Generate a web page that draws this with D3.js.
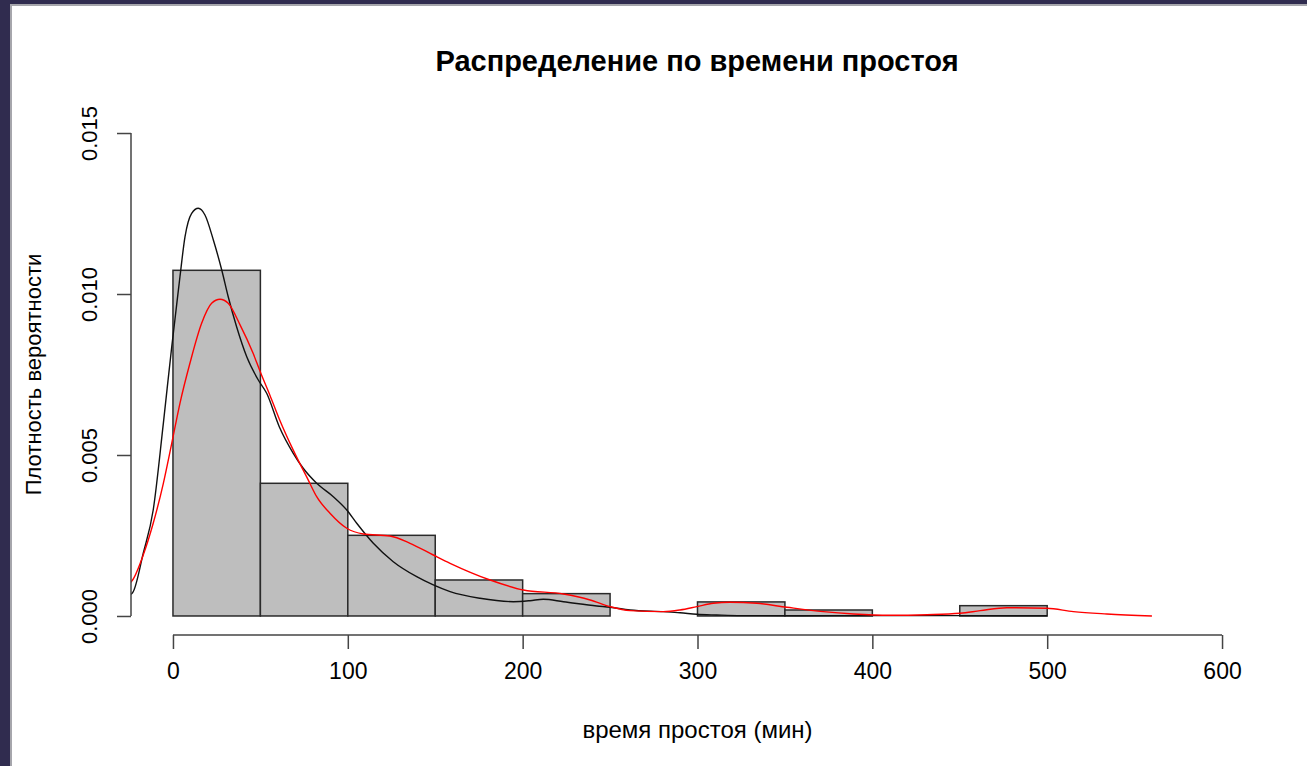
<!DOCTYPE html>
<html>
<head>
<meta charset="utf-8">
<script src="https://cdn.jsdelivr.net/npm/d3@7"></script>
<style>
  html, body { margin: 0; padding: 0; background: #ffffff; }
  svg { display: block; }
  text { font-family: "Liberation Sans", Arial, sans-serif; fill: #000; }
</style>
</head>
<body>
<svg id="chart" width="1307" height="766"></svg>
<script>
// Histogram bins (minutes) and densities
const binStarts = [0, 50, 100, 150, 200, 250, 300, 350, 400, 450];
const binWidth = 50;
const binDensity = [0.010736, 0.004121, 0.002505, 0.001118, 0.000694, 0, 0.000437, 0.000186, 0, 0.00032];

// Kernel density estimate (black curve)
const kdeX = [-30, -23.1, -17.0, -11.3, -5.5, -0.7, 1.1, 4.0, 6.9, 10.7, 14.5, 18.3, 23.1, 27.9, 31.6, 36.4,
  42.2, 48.8, 53.6, 60.8, 68.8, 74.5, 82.2, 91.7, 99.4, 105.1, 114.6, 126.0, 139.4, 148.9, 158.5, 175.6,
  194.7, 204.2, 211.8, 223.3, 242.4, 250.0, 261.4, 280.5, 290.0, 299.6, 311.0, 325, 360, 400, 450, 500];
const kdeY = [0.00052, 0.000724, 0.001947, 0.003292, 0.005984, 0.008363, 0.009193, 0.010537, 0.01178, 0.012506,
  0.012662, 0.012453, 0.011677, 0.010745, 0.009916, 0.008985, 0.008053, 0.007329, 0.006916, 0.005879,
  0.005053, 0.004587, 0.004121, 0.003705, 0.003292, 0.002879, 0.002258, 0.001686, 0.00122, 0.000963,
  0.000755, 0.00055, 0.000444, 0.000475, 0.000519, 0.000444, 0.000311, 0.00027, 0.000186, 0.000134,
  0.000102, 0.000053, 0.000031, 0.000012, 0.000008, 0.000012, 0.00001, 0.000005];

// Fitted density (red curve)
const fitX = [-30, -23.1, -17.0, -11.3, -5.5, -0.7, 4.0, 9.7, 16.4, 22.1, 26.9, 31.6, 38.3, 45.9, 49.8, 55.5,
  60.8, 68.8, 77.4, 82.2, 89.8, 99.4, 108.9, 124.1, 135.6, 148.9, 158.5, 181.4, 200.4, 223.3, 238.6, 250.0,
  261.4, 280.5, 290.0, 299.6, 309.1, 318.6, 333.9, 351.1, 372.0, 389.2, 410.2, 431.2, 450.2, 461.7, 476.9,
  499.8, 515.0, 534.1, 559.9];
const fitY = [0.00085, 0.001118, 0.001894, 0.002879, 0.004121, 0.005363, 0.006606, 0.007848, 0.00909, 0.009711,
  0.009835, 0.009711, 0.00905, 0.00815, 0.0076, 0.00685, 0.00612, 0.00515, 0.00422, 0.003705,
  0.00319, 0.002724, 0.002547, 0.002484, 0.002258, 0.001894, 0.001637, 0.001118, 0.000807, 0.000683,
  0.000497, 0.000289, 0.000165, 0.000134, 0.000186, 0.000289, 0.000394, 0.000425, 0.000394, 0.00027,
  0.000134, 0.000062, 0.000022, 0.00004, 0.000084, 0.000165, 0.000258, 0.000239, 0.000134, 0.000062, 0];

const xTicks = [0, 100, 200, 300, 400, 500, 600];
const yTicks = [0, 0.005, 0.010, 0.015];

const titleText = "Распределение по времени простоя";
const xLabel = "время простоя (мин)";
const yLabel = "Плотность вероятности";

const W = 1307, H = 766;
const svg = d3.select("#chart");

// Window frame: dark edge on top and left, thin grey rule, white canvas
svg.append("rect").attr("x", 0).attr("y", 0).attr("width", W).attr("height", H).attr("fill", "#302c4f");
svg.append("rect").attr("x", 10).attr("y", 4).attr("width", W - 10).attr("height", H - 4).attr("fill", "#a6a6ac");
svg.append("rect").attr("x", 12).attr("y", 6).attr("width", W - 12).attr("height", H - 6).attr("fill", "#ffffff");

// Plot region (axis limits padded by 4% like R's default)
const x = d3.scaleLinear().domain([-24, 624]).range([131, 1264]);
const y = d3.scaleLinear().domain([-0.0006, 0.0156]).range([635.3, 113.7]);

svg.append("defs").append("clipPath").attr("id", "plotClip")
  .append("rect")
  .attr("x", x(-24)).attr("y", y(0.0156))
  .attr("width", x(624) - x(-24)).attr("height", y(-0.0006) - y(0.0156));

// Histogram bars
svg.append("g").selectAll("rect")
  .data(binStarts.map((b, i) => ({ b, d: binDensity[i] })))
  .join("rect")
  .attr("x", d => x(d.b))
  .attr("y", d => y(d.d))
  .attr("width", d => x(d.b + binWidth) - x(d.b))
  .attr("height", d => y(0) - y(d.d))
  .attr("fill", "#bebebe")
  .attr("stroke", "#2a2a2a")
  .attr("stroke-width", 1.5);

// Curves
const line = d3.line().x(d => x(d[0])).y(d => y(d[1])).curve(d3.curveMonotoneX);
const curves = svg.append("g").attr("clip-path", "url(#plotClip)");
curves.append("path")
  .datum(kdeX.map((v, i) => [v, kdeY[i]]))
  .attr("d", line)
  .attr("fill", "none").attr("stroke", "#111").attr("stroke-width", 1.4);
curves.append("path")
  .datum(fitX.map((v, i) => [v, fitY[i]]))
  .attr("d", line)
  .attr("fill", "none").attr("stroke", "#ff0000").attr("stroke-width", 1.4);

// X axis
const xAxis = svg.append("g").attr("transform", "translate(0,635)")
  .call(d3.axisBottom(x).tickValues(xTicks).tickSize(14).tickPadding(14).tickFormat(d3.format("d")));
xAxis.select(".domain").remove();
xAxis.append("line").attr("x1", x(0)).attr("x2", x(600)).attr("y1", 0).attr("y2", 0)
  .attr("stroke", "#444").attr("stroke-width", 1.5);
xAxis.selectAll(".tick line").attr("stroke", "#444").attr("stroke-width", 1.5);
xAxis.selectAll(".tick text").style("font-size", "23px").attr("fill", "#000")
  .style("font-family", "'Liberation Sans', Arial, sans-serif");

// Y axis with vertical tick labels
const yAxis = svg.append("g").attr("transform", "translate(131,0)")
  .call(d3.axisLeft(y).tickValues(yTicks).tickSize(14).tickFormat(d3.format(".3f")));
yAxis.select(".domain").remove();
yAxis.append("line").attr("x1", 0).attr("x2", 0).attr("y1", y(0)).attr("y2", y(0.015))
  .attr("stroke", "#444").attr("stroke-width", 1.5);
yAxis.selectAll(".tick line").attr("stroke", "#444").attr("stroke-width", 1.5);
yAxis.selectAll(".tick text")
  .attr("x", null).attr("dy", null)
  .attr("text-anchor", "middle")
  .attr("transform", "translate(-34,0) rotate(-90)")
  .style("font-size", "22px").attr("fill", "#000")
  .style("font-family", "'Liberation Sans', Arial, sans-serif");

// Title and axis titles
svg.append("text").attr("x", 697).attr("y", 71).attr("text-anchor", "middle")
  .style("font-size", "29px").style("font-weight", "bold").text(titleText);
svg.append("text").attr("x", x(300)).attr("y", 738).attr("text-anchor", "middle")
  .style("font-size", "24px").text(xLabel);
svg.append("text").attr("transform", `translate(41,${y(0.0075)}) rotate(-90)`).attr("text-anchor", "middle")
  .style("font-size", "22px").text(yLabel);
</script>
</body>
</html>
